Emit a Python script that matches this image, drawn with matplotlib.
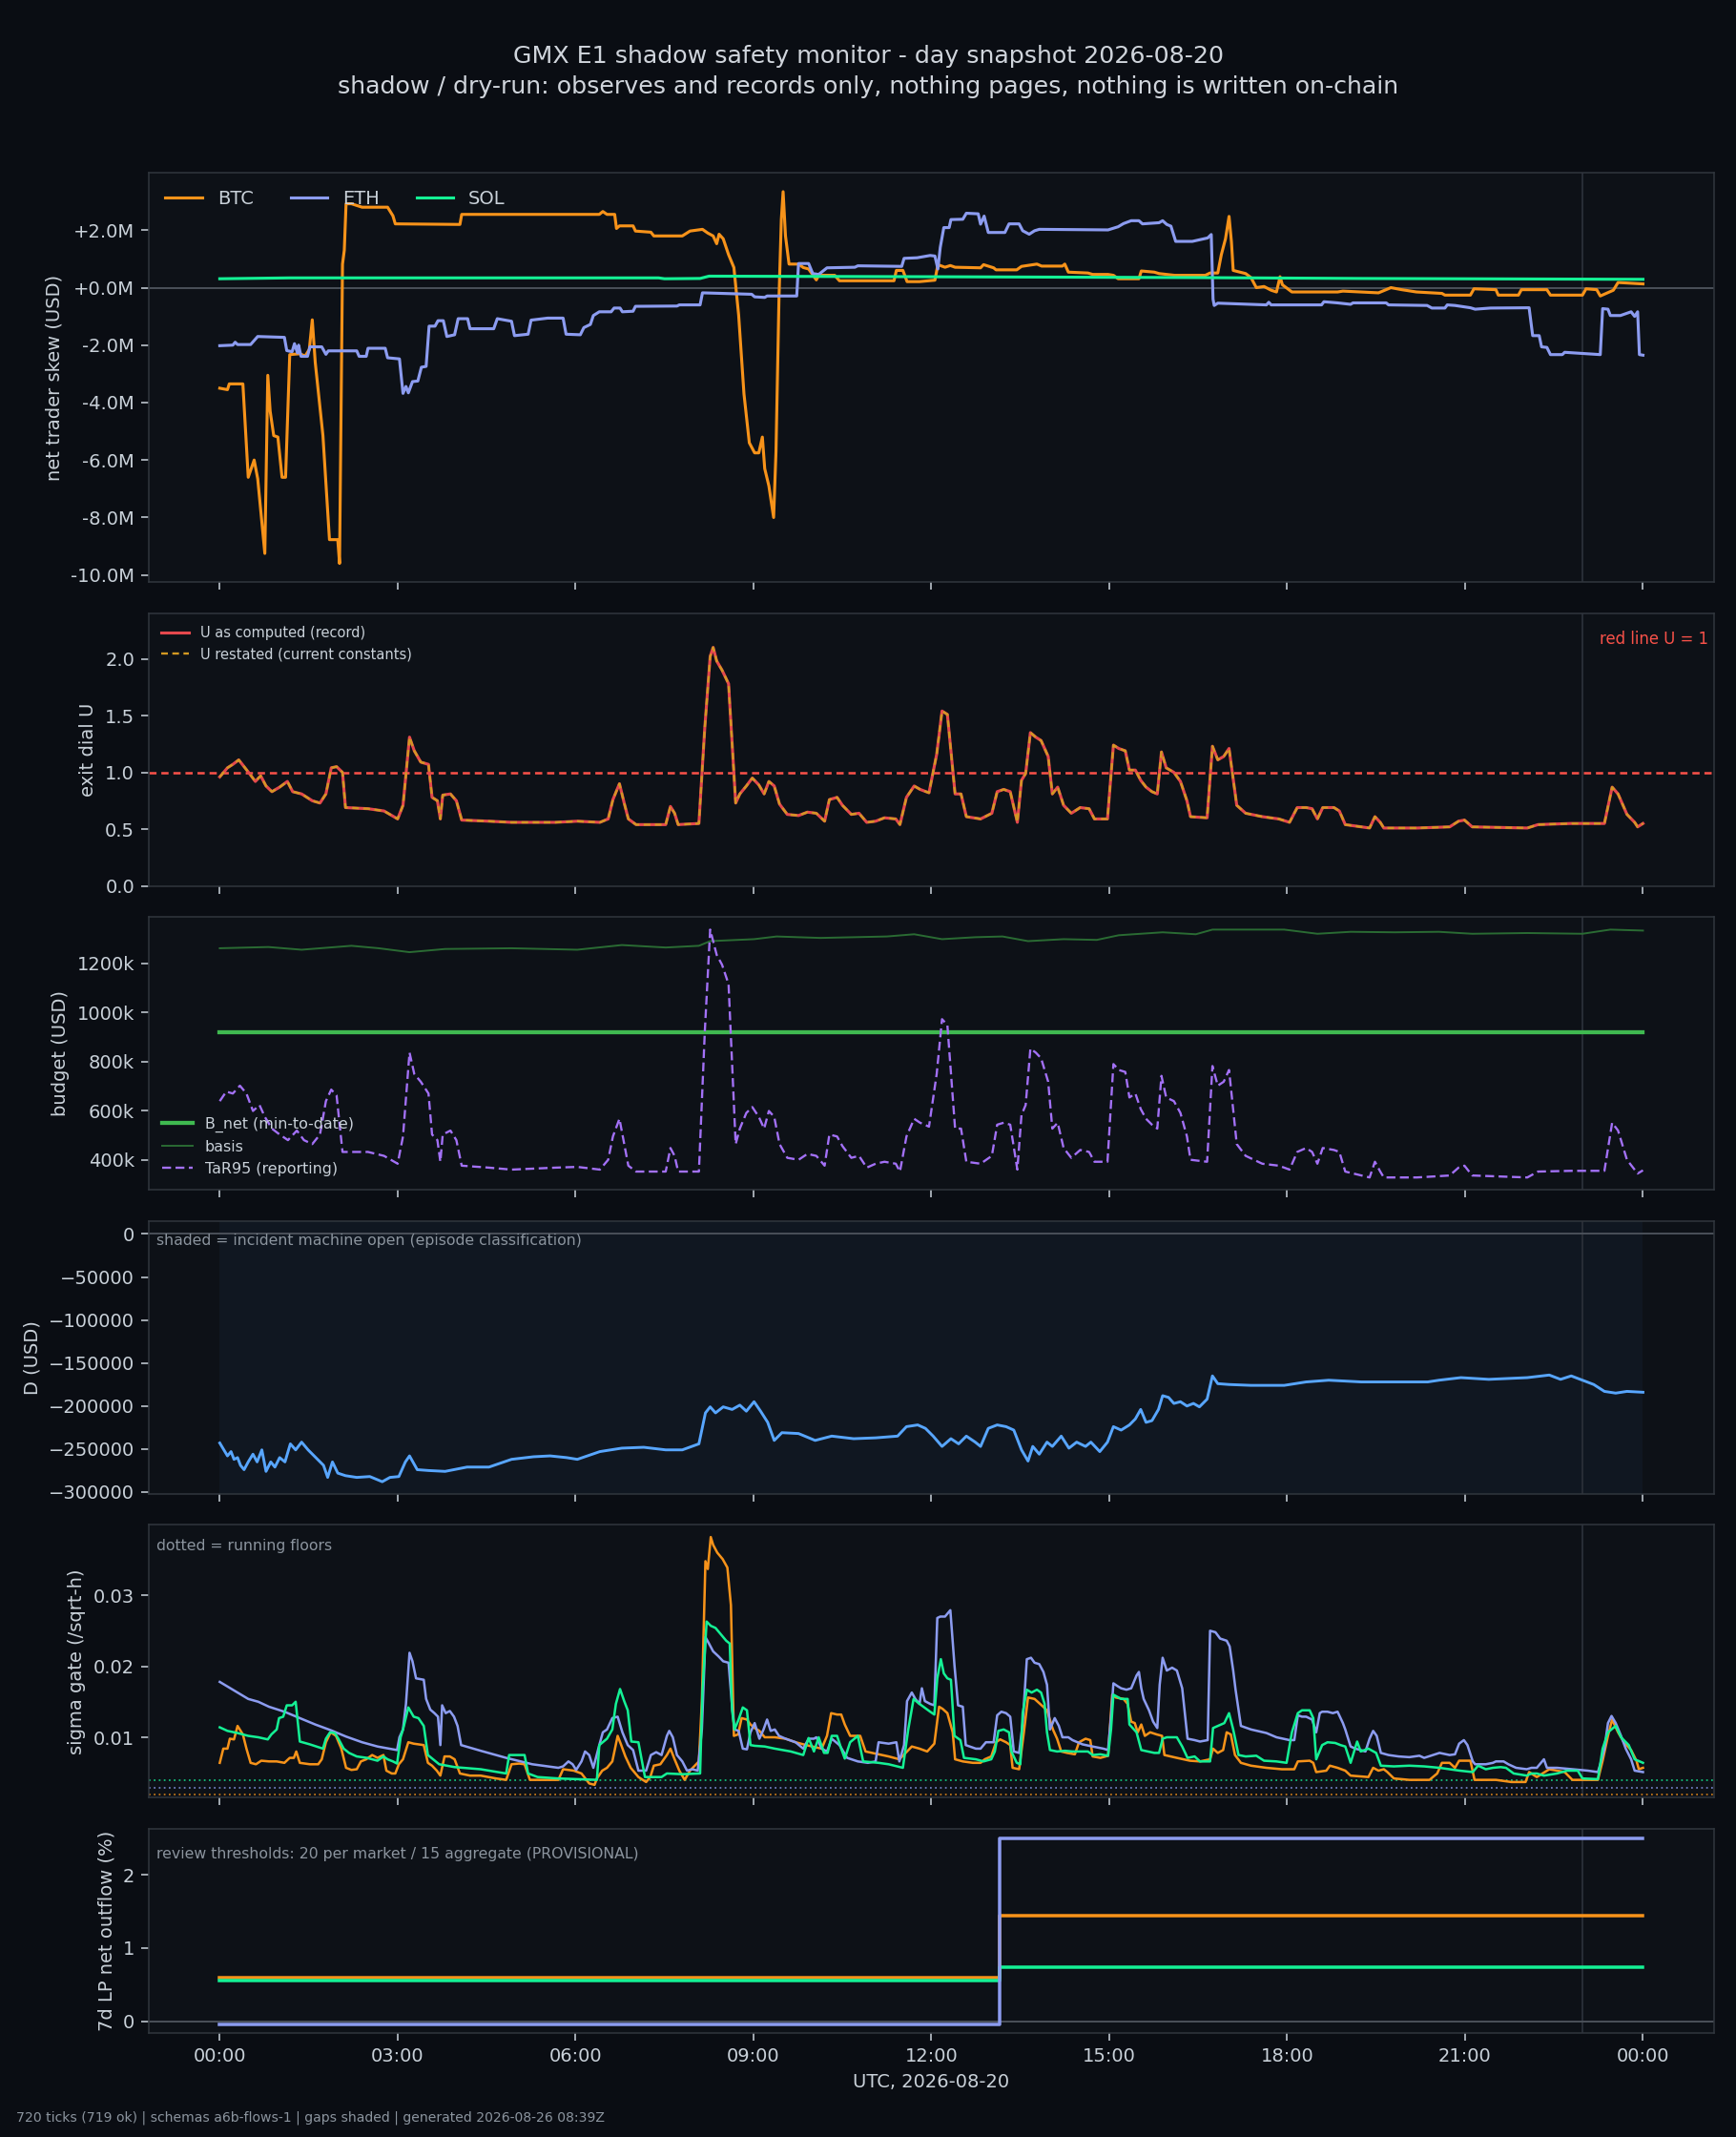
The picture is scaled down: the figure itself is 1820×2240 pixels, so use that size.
import matplotlib
matplotlib.use("Agg")
import matplotlib.pyplot as plt
from matplotlib.ticker import FuncFormatter, MultipleLocator

# colours (dark theme)
BG = "#0a0d13"
PANEL = "#0d1117"
EDGE = "#30363d"
TXT = "#c9d1d9"
MUTED = "#8b949e"
C_BTC = "#f7931a"
C_ETH = "#8c9cf0"
C_SOL = "#14f195"

# ---- data, hours since 00:00 UTC ----
# net trader skew, USD millions
btc_skew = [(0.00, -3.50), (0.13, -3.55), (0.16, -3.35), (0.39, -3.35), (0.48, -6.60), (0.58, -6.00),
            (0.64, -6.65), (0.76, -9.25), (0.81, -3.05), (0.85, -4.30), (0.91, -5.15), (0.98, -5.20),
            (1.05, -6.60), (1.11, -6.60), (1.18, -2.33), (1.35, -2.30), (1.44, -2.38), (1.51, -2.15),
            (1.56, -1.12), (1.61, -2.60), (1.74, -5.15), (1.85, -8.77), (1.99, -8.77), (2.02, -9.60),
            (2.07, 0.82), (2.10, 1.30), (2.13, 2.92), (2.22, 2.92), (2.31, 2.86), (2.40, 2.80),
            (2.83, 2.80), (2.92, 2.50), (2.96, 2.22), (4.05, 2.20), (4.08, 2.55), (6.40, 2.55),
            (6.46, 2.65), (6.53, 2.55), (6.66, 2.55), (6.69, 2.06), (6.74, 2.15), (6.97, 2.15),
            (7.01, 1.97), (7.27, 1.93), (7.32, 1.80), (7.80, 1.80), (7.93, 1.97), (8.14, 2.03),
            (8.23, 1.90), (8.32, 1.80), (8.38, 1.53), (8.42, 1.86), (8.49, 1.70), (8.58, 1.15),
            (8.67, 0.70), (8.75, -0.95), (8.84, -3.70), (8.93, -5.40), (9.02, -5.75), (9.09, -5.75),
            (9.15, -5.20), (9.19, -6.30), (9.26, -6.90), (9.34, -8.00), (9.38, -5.70), (9.43, -0.40),
            (9.47, 2.37), (9.50, 3.34), (9.54, 1.80), (9.60, 0.82), (9.76, 0.82), (9.84, 0.70),
            (9.93, 0.65), (10.06, 0.27), (10.10, 0.43), (10.37, 0.43), (10.45, 0.24), (11.37, 0.24),
            (11.41, 0.60), (11.52, 0.60), (11.59, 0.21), (11.80, 0.21), (12.06, 0.26), (12.11, 0.80),
            (12.23, 0.71), (12.32, 0.77), (12.40, 0.71), (12.83, 0.69), (12.88, 0.80), (13.05, 0.69),
            (13.09, 0.62), (13.44, 0.62), (13.52, 0.74), (13.78, 0.82), (13.86, 0.75), (14.21, 0.75),
            (14.25, 0.82), (14.31, 0.54), (14.64, 0.51), (14.72, 0.46), (14.98, 0.46), (15.07, 0.43),
            (15.15, 0.31), (15.50, 0.31), (15.54, 0.58), (15.76, 0.54), (15.84, 0.49), (16.10, 0.43),
            (16.62, 0.43), (16.70, 0.51), (16.83, 0.51), (16.89, 1.15), (16.96, 1.70), (17.02, 2.48),
            (17.06, 1.60), (17.09, 0.60), (17.30, 0.49), (17.39, 0.35), (17.48, 0.00), (17.61, 0.04),
            (17.73, -0.09), (17.82, -0.15), (17.88, 0.38), (17.92, 0.10), (18.08, -0.15), (18.85, -0.15),
            (18.94, -0.12), (19.54, -0.18), (19.75, 0.00), (19.93, -0.07), (20.18, -0.15), (20.61, -0.20),
            (20.66, -0.26), (21.09, -0.26), (21.15, -0.04), (21.52, -0.07), (21.56, -0.26), (21.90, -0.26),
            (21.95, -0.07), (22.38, -0.07), (22.44, -0.26), (22.98, -0.26), (23.04, -0.04), (23.22, -0.07),
            (23.28, -0.29), (23.50, -0.09), (23.58, 0.18), (24.00, 0.13)]
eth_skew = [(0.00, -2.02), (0.22, -2.00), (0.26, -1.90), (0.30, -1.98), (0.52, -1.98), (0.64, -1.70),
            (1.09, -1.73), (1.13, -2.19), (1.22, -2.23), (1.26, -1.95), (1.31, -2.27), (1.33, -2.00),
            (1.37, -2.39), (1.48, -2.39), (1.52, -2.06), (1.72, -2.06), (1.79, -2.32), (1.83, -2.20),
            (2.31, -2.20), (2.35, -2.39), (2.47, -2.39), (2.50, -2.11), (2.79, -2.11), (2.83, -2.44),
            (3.03, -2.48), (3.09, -3.68), (3.14, -3.44), (3.18, -3.66), (3.25, -3.27), (3.34, -3.25),
            (3.40, -2.77), (3.48, -2.74), (3.53, -1.34), (3.63, -1.34), (3.68, -1.15), (3.77, -1.15),
            (3.83, -1.70), (3.96, -1.64), (4.02, -1.08), (4.18, -1.08), (4.22, -1.43), (4.62, -1.43),
            (4.68, -1.08), (4.92, -1.17), (4.97, -1.67), (5.20, -1.62), (5.25, -1.13), (5.53, -1.06),
            (5.79, -1.06), (5.84, -1.62), (6.08, -1.64), (6.14, -1.39), (6.25, -1.28), (6.30, -0.97),
            (6.40, -0.84), (6.60, -0.84), (6.65, -0.71), (6.75, -0.71), (6.79, -0.84), (6.97, -0.82),
            (7.01, -0.65), (7.71, -0.64), (7.75, -0.60), (8.10, -0.60), (8.14, -0.18), (8.62, -0.21),
            (8.97, -0.23), (9.02, -0.32), (9.19, -0.34), (9.23, -0.29), (9.73, -0.29), (9.76, 0.84),
            (9.93, 0.84), (10.00, 0.49), (10.10, 0.46), (10.24, 0.69), (10.71, 0.71), (10.76, 0.76),
            (11.50, 0.74), (11.54, 1.02), (11.76, 1.04), (11.98, 1.12), (12.06, 1.10), (12.11, 0.65),
            (12.15, 1.40), (12.21, 2.09), (12.30, 2.09), (12.33, 2.37), (12.53, 2.38), (12.59, 2.59),
            (12.79, 2.57), (12.83, 2.21), (12.89, 2.49), (12.96, 1.92), (13.24, 1.92), (13.31, 2.22),
            (13.48, 2.22), (13.54, 1.98), (13.65, 1.86), (13.74, 1.98), (13.82, 2.03), (14.98, 2.01),
            (15.15, 2.12), (15.24, 2.23), (15.37, 2.33), (15.50, 2.33), (15.56, 2.22), (15.84, 2.26),
            (15.90, 2.33), (15.97, 2.20), (16.04, 2.14), (16.12, 1.61), (16.40, 1.61), (16.66, 1.73),
            (16.72, 1.85), (16.75, -0.40), (16.77, -0.62), (16.83, -0.54), (17.65, -0.60), (17.69, -0.51),
            (17.73, -0.60), (18.58, -0.60), (18.62, -0.49), (18.85, -0.53), (19.07, -0.58), (19.11, -0.53),
            (19.67, -0.53), (19.71, -0.60), (20.36, -0.62), (20.44, -0.71), (20.66, -0.71), (20.70, -0.60),
            (20.83, -0.62), (21.09, -0.70), (21.17, -0.75), (21.43, -0.71), (22.08, -0.70), (22.14, -1.67),
            (22.25, -1.67), (22.29, -2.06), (22.38, -2.08), (22.44, -2.33), (22.64, -2.33), (22.68, -2.25),
            (23.28, -2.33), (23.32, -0.73), (23.41, -0.75), (23.45, -0.97), (23.62, -0.97), (23.80, -0.84),
            (23.86, -1.00), (23.91, -0.84), (23.94, -2.33), (24.00, -2.35)]
sol_skew = [(0.00, 0.31), (1.18, 0.34), (7.40, 0.34), (7.50, 0.31), (8.10, 0.32), (8.25, 0.40),
            (12.06, 0.38), (16.50, 0.35), (19.20, 0.32), (24.00, 0.29)]

# exit dial U (record; restated values coincide)
u_dial = [(0.00, 0.96), (0.13, 1.04), (0.22, 1.07), (0.32, 1.11), (0.41, 1.05), (0.50, 0.99), (0.60, 0.92),
          (0.69, 0.97), (0.78, 0.88), (0.88, 0.83), (1.01, 0.87), (1.14, 0.92), (1.23, 0.83), (1.38, 0.81),
          (1.56, 0.75), (1.69, 0.73), (1.79, 0.81), (1.88, 1.04), (1.97, 1.05), (2.07, 1.00), (2.12, 0.69),
          (2.50, 0.68), (2.77, 0.66), (3.00, 0.59), (3.09, 0.71), (3.20, 1.31), (3.28, 1.19), (3.39, 1.09),
          (3.52, 1.07), (3.58, 0.78), (3.67, 0.75), (3.72, 0.59), (3.76, 0.80), (3.89, 0.81), (3.99, 0.75),
          (4.08, 0.58), (4.54, 0.57), (4.92, 0.56), (5.66, 0.56), (6.03, 0.57), (6.41, 0.56), (6.55, 0.59),
          (6.63, 0.76), (6.74, 0.90), (6.82, 0.73), (6.89, 0.59), (7.02, 0.54), (7.52, 0.54), (7.60, 0.70),
          (7.67, 0.64), (7.73, 0.54), (8.08, 0.55), (8.18, 1.40), (8.27, 2.02), (8.32, 2.10), (8.38, 1.98),
          (8.47, 1.90), (8.58, 1.78), (8.70, 0.73), (8.77, 0.81), (8.88, 0.88), (8.98, 0.95), (9.09, 0.89),
          (9.18, 0.81), (9.26, 0.92), (9.35, 0.88), (9.44, 0.72), (9.57, 0.63), (9.76, 0.62), (9.91, 0.65),
          (10.06, 0.64), (10.20, 0.57), (10.28, 0.76), (10.41, 0.78), (10.50, 0.71), (10.65, 0.63),
          (10.78, 0.64), (10.91, 0.56), (11.06, 0.57), (11.21, 0.60), (11.40, 0.59), (11.47, 0.54),
          (11.58, 0.78), (11.71, 0.88), (11.81, 0.85), (11.96, 0.82), (12.09, 1.16), (12.18, 1.54),
          (12.27, 1.51), (12.40, 0.81), (12.50, 0.81), (12.59, 0.61), (12.83, 0.59), (13.02, 0.64),
          (13.11, 0.83), (13.22, 0.85), (13.33, 0.83), (13.45, 0.56), (13.52, 0.93), (13.59, 0.99),
          (13.67, 1.35), (13.76, 1.31), (13.85, 1.28), (13.97, 1.14), (14.04, 0.81), (14.13, 0.87),
          (14.23, 0.71), (14.36, 0.64), (14.51, 0.69), (14.66, 0.68), (14.75, 0.59), (14.97, 0.59),
          (15.07, 1.24), (15.16, 1.21), (15.27, 1.19), (15.34, 1.02), (15.44, 1.02), (15.53, 0.93),
          (15.62, 0.87), (15.72, 0.83), (15.81, 0.81), (15.88, 1.18), (15.96, 1.04), (16.09, 1.00),
          (16.20, 0.92), (16.31, 0.75), (16.37, 0.61), (16.65, 0.60), (16.74, 1.23), (16.83, 1.11),
          (16.93, 1.14), (17.02, 1.21), (17.15, 0.71), (17.30, 0.64), (17.58, 0.61), (17.86, 0.59),
          (18.04, 0.56), (18.17, 0.69), (18.32, 0.69), (18.42, 0.68), (18.51, 0.59), (18.60, 0.69),
          (18.79, 0.69), (18.88, 0.66), (18.98, 0.54), (19.25, 0.52), (19.39, 0.51), (19.48, 0.61),
          (19.57, 0.56), (19.63, 0.51), (20.19, 0.51), (20.74, 0.52), (20.89, 0.57), (20.99, 0.58),
          (21.12, 0.52), (22.05, 0.51), (22.23, 0.54), (22.79, 0.55), (23.35, 0.55), (23.48, 0.87),
          (23.58, 0.81), (23.73, 0.63), (23.86, 0.56), (23.91, 0.52), (24.00, 0.55)]
u_red_line = 1.0

# budget, USD thousands
b_net_k = 920
basis_k = [(0.00, 1262), (0.82, 1267), (1.38, 1256), (2.22, 1272), (2.68, 1262), (3.20, 1246), (3.80, 1259),
           (4.92, 1262), (6.03, 1256), (6.78, 1275), (7.52, 1265), (8.08, 1272), (8.27, 1291), (9.01, 1299),
           (9.39, 1310), (10.13, 1304), (11.25, 1310), (11.71, 1319), (12.18, 1299), (12.74, 1307),
           (13.20, 1310), (13.63, 1291), (14.23, 1299), (14.79, 1296), (15.16, 1315), (15.90, 1327),
           (16.46, 1319), (16.74, 1338), (17.95, 1338), (18.51, 1321), (19.07, 1329), (19.81, 1327),
           (20.56, 1329), (21.12, 1321), (22.05, 1324), (22.98, 1321), (23.45, 1338), (24.00, 1334)]
tar95_k = [(0.00, 639), (0.11, 678), (0.22, 670), (0.34, 702), (0.45, 670), (0.56, 599), (0.67, 623),
           (0.76, 575), (0.88, 527), (1.01, 503), (1.15, 480), (1.30, 519), (1.42, 480), (1.56, 464),
           (1.69, 503), (1.79, 639), (1.88, 686), (1.97, 662), (2.07, 432), (2.50, 432), (2.77, 416),
           (3.00, 384), (3.09, 495), (3.20, 837), (3.28, 750), (3.39, 718), (3.52, 670), (3.58, 503),
           (3.67, 480), (3.72, 392), (3.76, 503), (3.89, 519), (3.99, 480), (4.08, 376), (4.54, 368),
           (4.92, 360), (5.66, 368), (6.03, 371), (6.41, 360), (6.55, 400), (6.63, 495), (6.74, 567),
           (6.82, 464), (6.89, 376), (7.02, 352), (7.52, 352), (7.60, 448), (7.67, 416), (7.73, 352),
           (8.08, 352), (8.18, 925), (8.27, 1338), (8.32, 1291), (8.38, 1235), (8.47, 1195), (8.58, 1116),
           (8.70, 464), (8.77, 527), (8.88, 591), (8.98, 615), (9.09, 575), (9.18, 527), (9.26, 599),
           (9.35, 575), (9.44, 464), (9.57, 408), (9.76, 400), (9.91, 424), (10.06, 416), (10.20, 376),
           (10.28, 503), (10.41, 495), (10.50, 456), (10.65, 408), (10.78, 416), (10.91, 368), (11.06, 384),
           (11.21, 392), (11.40, 384), (11.47, 352), (11.58, 495), (11.71, 567), (11.81, 551), (11.96, 535),
           (12.09, 750), (12.18, 973), (12.27, 949), (12.40, 527), (12.50, 527), (12.59, 392), (12.83, 384),
           (13.02, 416), (13.11, 543), (13.22, 551), (13.33, 543), (13.45, 360), (13.52, 583), (13.59, 623),
           (13.67, 853), (13.76, 837), (13.85, 814), (13.97, 718), (14.04, 527), (14.13, 551), (14.23, 448),
           (14.36, 408), (14.51, 440), (14.66, 432), (14.75, 392), (14.97, 392), (15.07, 790), (15.16, 766),
           (15.27, 758), (15.34, 654), (15.44, 670), (15.53, 607), (15.62, 567), (15.72, 543), (15.81, 527),
           (15.88, 742), (15.96, 654), (16.09, 639), (16.20, 591), (16.31, 495), (16.37, 400), (16.65, 392),
           (16.74, 782), (16.83, 702), (16.93, 718), (17.02, 766), (17.15, 464), (17.30, 416), (17.58, 384),
           (17.86, 376), (18.04, 360), (18.17, 432), (18.32, 448), (18.42, 432), (18.51, 384), (18.60, 448),
           (18.79, 440), (18.88, 432), (18.98, 352), (19.25, 336), (19.39, 328), (19.48, 392), (19.57, 352),
           (19.63, 328), (20.19, 328), (20.74, 336), (20.89, 368), (20.99, 376), (21.12, 336), (22.05, 328),
           (22.23, 352), (22.79, 355), (23.35, 355), (23.48, 551), (23.58, 519), (23.73, 400), (23.86, 360),
           (23.91, 344), (24.00, 357)]

# D, USD thousands
d_k = [(0.00, -243), (0.07, -251), (0.13, -258), (0.19, -253), (0.24, -262), (0.30, -260), (0.35, -269),
       (0.41, -274), (0.48, -265), (0.56, -256), (0.63, -265), (0.71, -251), (0.78, -276), (0.86, -265),
       (0.93, -271), (1.01, -260), (1.10, -265), (1.19, -244), (1.28, -251), (1.38, -242), (1.49, -251),
       (1.62, -260), (1.75, -269), (1.82, -283), (1.90, -265), (1.99, -278), (2.12, -281), (2.31, -283),
       (2.53, -282), (2.74, -288), (2.87, -283), (3.02, -282), (3.13, -265), (3.20, -258), (3.33, -274),
       (3.52, -275), (3.80, -276), (4.17, -271), (4.54, -271), (4.92, -262), (5.29, -259), (5.57, -258),
       (5.85, -260), (6.03, -262), (6.41, -253), (6.78, -249), (7.15, -248), (7.52, -251), (7.80, -251),
       (8.08, -244), (8.19, -208), (8.27, -201), (8.36, -208), (8.49, -201), (8.64, -204), (8.77, -199),
       (8.88, -206), (9.01, -195), (9.12, -206), (9.24, -219), (9.35, -240), (9.48, -231), (9.76, -232),
       (10.04, -240), (10.32, -235), (10.69, -238), (11.06, -237), (11.43, -235), (11.58, -224),
       (11.77, -222), (11.90, -226), (12.03, -235), (12.18, -247), (12.33, -238), (12.46, -244),
       (12.59, -235), (12.74, -242), (12.83, -247), (12.96, -226), (13.11, -222), (13.26, -224),
       (13.39, -228), (13.52, -251), (13.63, -264), (13.71, -247), (13.82, -256), (13.95, -242),
       (14.04, -247), (14.19, -235), (14.32, -249), (14.45, -242), (14.60, -247), (14.69, -242),
       (14.84, -253), (14.97, -242), (15.07, -224), (15.20, -228), (15.34, -222), (15.44, -215),
       (15.53, -204), (15.62, -219), (15.72, -217), (15.83, -204), (15.90, -188), (16.00, -190),
       (16.09, -197), (16.20, -195), (16.31, -200), (16.42, -197), (16.52, -201), (16.65, -192),
       (16.74, -165), (16.83, -174), (17.02, -175), (17.39, -176), (17.95, -176), (18.32, -172),
       (18.70, -170), (19.25, -172), (19.81, -172), (20.37, -172), (20.56, -170), (20.93, -167),
       (21.40, -169), (22.05, -167), (22.42, -164), (22.61, -169), (22.79, -165), (22.98, -170),
       (23.17, -175), (23.35, -183), (23.54, -185), (23.73, -183), (24.00, -184)]
incident_open = (0.0, 24.0)

# sigma gate, in units of 1e-3 per sqrt-hour
sig_btc = [(0.00, 6.4), (0.06, 8.4), (0.13, 8.4), (0.17, 9.8), (0.24, 9.7), (0.30, 11.6), (0.39, 10.4),
           (0.45, 8.4), (0.52, 6.4), (0.61, 6.2), (0.70, 6.7), (0.83, 6.6), (0.96, 6.6), (1.09, 6.4),
           (1.18, 7.1), (1.25, 7.1), (1.29, 8.0), (1.35, 6.4), (1.52, 6.2), (1.66, 6.2), (1.72, 6.9),
           (1.79, 9.3), (1.87, 10.7), (1.96, 10.2), (2.05, 8.4), (2.13, 5.7), (2.22, 5.4), (2.31, 5.5),
           (2.38, 6.6), (2.47, 6.9), (2.57, 7.5), (2.66, 7.1), (2.76, 7.5), (2.81, 5.3), (2.90, 4.9),
           (2.96, 4.9), (3.02, 6.2), (3.09, 6.9), (3.18, 9.3), (3.27, 9.1), (3.35, 9.0), (3.44, 8.9),
           (3.51, 6.4), (3.58, 6.0), (3.66, 5.3), (3.72, 4.6), (3.79, 7.3), (3.88, 7.3), (3.96, 6.9),
           (4.05, 4.9), (4.22, 4.6), (4.40, 4.6), (4.66, 4.2), (4.83, 4.0), (4.92, 6.2), (5.05, 6.3),
           (5.14, 6.2), (5.23, 4.0), (5.71, 4.0), (5.79, 5.5), (5.97, 5.3), (6.10, 4.9), (6.23, 3.5),
           (6.32, 3.3), (6.36, 4.2), (6.45, 5.3), (6.53, 5.7), (6.62, 6.6), (6.71, 10.2), (6.77, 8.9),
           (6.84, 7.3), (6.93, 5.7), (7.06, 4.4), (7.19, 3.7), (7.26, 4.4), (7.32, 6.0), (7.43, 6.2),
           (7.54, 7.5), (7.60, 8.4), (7.67, 6.9), (7.75, 5.3), (7.84, 4.0), (7.93, 5.3), (8.01, 6.0),
           (8.08, 6.6), (8.13, 15.1), (8.19, 34.8), (8.23, 33.7), (8.28, 38.2), (8.32, 37.1), (8.39, 36.0),
           (8.48, 35.1), (8.56, 33.9), (8.62, 28.6), (8.67, 10.2), (8.74, 10.4), (8.80, 12.7), (8.89, 12.5),
           (8.95, 11.8), (9.02, 11.3), (9.10, 10.9), (9.19, 10.0), (9.36, 10.0), (9.54, 9.8), (9.71, 9.3),
           (9.89, 8.9), (10.15, 8.4), (10.24, 10.2), (10.31, 13.4), (10.41, 13.2), (10.48, 13.2),
           (10.54, 11.8), (10.63, 10.2), (10.71, 10.2), (10.80, 10.2), (10.89, 8.0), (11.11, 7.6),
           (11.28, 7.3), (11.46, 6.9), (11.59, 8.0), (11.67, 8.7), (11.80, 8.4), (11.93, 8.0), (12.05, 9.1),
           (12.13, 14.3), (12.19, 14.0), (12.27, 13.4), (12.36, 10.7), (12.40, 6.9), (12.53, 6.6),
           (12.70, 6.4), (12.83, 6.4), (12.90, 6.9), (13.01, 7.3), (13.09, 9.3), (13.16, 9.7), (13.26, 9.3),
           (13.33, 8.9), (13.37, 5.7), (13.48, 5.5), (13.56, 10.7), (13.63, 15.6), (13.74, 15.4),
           (13.86, 14.5), (13.95, 13.8), (14.05, 11.1), (14.12, 9.8), (14.19, 8.0), (14.29, 7.8),
           (14.42, 7.6), (14.49, 9.3), (14.60, 9.8), (14.68, 9.6), (14.72, 7.3), (14.85, 7.1), (14.98, 7.4),
           (15.05, 16.0), (15.11, 15.6), (15.24, 15.4), (15.31, 14.7), (15.37, 12.2), (15.43, 12.0),
           (15.48, 10.7), (15.54, 11.8), (15.60, 10.2), (15.69, 10.7), (15.80, 10.4), (15.89, 10.2),
           (15.93, 7.5), (16.14, 7.1), (16.36, 6.7), (16.53, 6.6), (16.70, 6.9), (16.75, 8.4), (16.83, 7.8),
           (16.92, 8.2), (16.98, 10.7), (17.05, 10.4), (17.12, 7.5), (17.22, 6.4), (17.39, 6.0),
           (17.65, 5.7), (17.91, 5.5), (18.12, 5.5), (18.18, 6.6), (18.38, 6.7), (18.44, 6.4), (18.49, 5.1),
           (18.66, 5.3), (18.72, 6.0), (18.85, 5.7), (18.98, 5.3), (19.07, 4.6), (19.37, 4.4), (19.45, 5.7),
           (19.54, 5.3), (19.63, 5.5), (19.69, 5.1), (19.80, 4.2), (20.06, 4.0), (20.40, 4.0), (20.53, 4.9),
           (20.61, 6.4), (20.74, 6.4), (20.83, 5.7), (20.90, 6.7), (21.09, 6.7), (21.16, 4.0), (21.52, 4.0),
           (21.78, 3.7), (22.02, 3.7), (22.08, 5.1), (22.21, 4.4), (22.42, 5.5), (22.55, 5.3), (22.68, 5.1),
           (22.81, 4.0), (23.24, 4.0), (23.32, 6.7), (23.41, 10.2), (23.48, 12.5), (23.58, 10.7),
           (23.68, 9.3), (23.80, 8.2), (23.89, 6.7), (23.93, 5.5), (24.00, 5.7)]
sig_eth = [(0.00, 17.8), (0.22, 16.7), (0.48, 15.4), (0.65, 15.0), (0.83, 14.3), (1.09, 13.6), (1.35, 12.7),
           (1.61, 11.8), (1.87, 11.0), (2.13, 10.1), (2.40, 9.3), (2.66, 8.7), (2.99, 8.2), (3.03, 10.0),
           (3.09, 11.1), (3.14, 14.7), (3.20, 21.9), (3.25, 20.7), (3.31, 18.3), (3.44, 18.1), (3.48, 15.4),
           (3.55, 13.9), (3.62, 13.4), (3.68, 12.9), (3.72, 8.9), (3.75, 14.5), (3.81, 13.4), (3.88, 13.7),
           (3.95, 12.9), (4.01, 11.6), (4.07, 8.9), (4.40, 8.1), (4.83, 7.1), (5.27, 6.2), (5.71, 5.7),
           (5.79, 5.9), (5.88, 6.6), (5.95, 6.2), (6.01, 5.4), (6.10, 6.6), (6.16, 8.0), (6.23, 7.5),
           (6.30, 5.7), (6.40, 8.9), (6.46, 10.7), (6.53, 11.1), (6.62, 12.7), (6.71, 12.9), (6.79, 10.7),
           (6.88, 8.9), (6.97, 8.2), (7.06, 5.3), (7.19, 5.3), (7.27, 7.5), (7.36, 7.9), (7.45, 7.5),
           (7.54, 10.2), (7.58, 10.9), (7.64, 10.0), (7.71, 7.5), (7.80, 6.6), (7.88, 5.3), (7.97, 5.5),
           (8.06, 5.3), (8.13, 11.1), (8.19, 24.1), (8.25, 23.2), (8.32, 22.1), (8.41, 21.4), (8.49, 20.7),
           (8.58, 20.5), (8.64, 14.3), (8.68, 11.1), (8.75, 10.9), (8.82, 8.4), (8.89, 8.3), (8.95, 10.7),
           (9.02, 12.0), (9.10, 9.8), (9.17, 11.1), (9.23, 12.5), (9.29, 10.9), (9.36, 11.1), (9.43, 10.2),
           (9.54, 9.8), (9.71, 9.3), (9.84, 8.4), (9.93, 9.8), (10.02, 9.8), (10.06, 10.0), (10.15, 8.4),
           (10.24, 8.0), (10.32, 9.8), (10.45, 8.9), (10.58, 7.1), (10.76, 6.6), (10.93, 6.4), (11.06, 6.6),
           (11.11, 9.3), (11.28, 9.1), (11.41, 9.3), (11.46, 6.6), (11.54, 8.9), (11.59, 15.1), (11.67, 16.3),
           (11.73, 15.4), (11.80, 14.7), (11.84, 16.9), (11.89, 15.1), (11.98, 14.7), (12.05, 14.5),
           (12.10, 26.8), (12.15, 27.0), (12.23, 27.0), (12.32, 27.9), (12.39, 20.1), (12.45, 14.5),
           (12.53, 14.3), (12.58, 8.9), (12.75, 8.4), (12.83, 8.4), (12.92, 9.3), (13.05, 9.3), (13.11, 13.1),
           (13.18, 13.6), (13.26, 13.4), (13.33, 12.9), (13.39, 8.0), (13.48, 7.8), (13.54, 12.0),
           (13.61, 21.0), (13.68, 21.2), (13.74, 20.5), (13.82, 20.3), (13.89, 19.2), (13.95, 17.4),
           (14.00, 11.1), (14.08, 12.7), (14.15, 11.6), (14.21, 10.0), (14.31, 10.0), (14.38, 9.6),
           (14.55, 9.0), (14.72, 8.7), (14.90, 8.4), (14.98, 8.2), (15.03, 12.9), (15.07, 17.6), (15.14, 17.2),
           (15.20, 16.9), (15.29, 16.7), (15.37, 16.9), (15.46, 18.7), (15.50, 19.2), (15.54, 16.9),
           (15.58, 15.4), (15.67, 13.8), (15.74, 12.2), (15.81, 11.3), (15.85, 17.4), (15.90, 21.2),
           (15.97, 19.4), (16.06, 19.8), (16.14, 19.4), (16.23, 16.9), (16.32, 9.8), (16.44, 9.6),
           (16.53, 9.4), (16.66, 9.6), (16.70, 25.0), (16.79, 24.8), (16.87, 23.9), (16.98, 23.6),
           (17.03, 22.8), (17.09, 19.4), (17.13, 16.7), (17.22, 11.6), (17.39, 11.1), (17.65, 10.6),
           (17.82, 10.0), (18.04, 9.6), (18.12, 9.6), (18.18, 13.1), (18.25, 12.9), (18.32, 12.9),
           (18.42, 12.5), (18.49, 10.7), (18.55, 13.4), (18.59, 13.6), (18.68, 13.6), (18.77, 13.4),
           (18.85, 13.6), (18.94, 12.0), (18.98, 11.1), (19.07, 8.7), (19.15, 8.4), (19.24, 8.2), (19.32, 8.0),
           (19.39, 9.8), (19.45, 10.9), (19.51, 10.2), (19.58, 7.8), (19.71, 7.5), (19.88, 7.3), (20.06, 7.2),
           (20.23, 7.4), (20.31, 7.1), (20.57, 7.8), (20.74, 7.5), (20.83, 7.6), (20.90, 9.1), (20.98, 9.6),
           (21.04, 8.9), (21.13, 6.6), (21.17, 6.2), (21.35, 6.2), (21.47, 6.4), (21.52, 6.6), (21.65, 6.6),
           (21.73, 6.2), (21.86, 5.7), (22.04, 5.5), (22.12, 5.7), (22.21, 5.7), (22.33, 6.9), (22.38, 5.7),
           (22.55, 5.7), (22.81, 5.5), (23.07, 5.3), (23.24, 5.1), (23.28, 6.2), (23.35, 8.4), (23.41, 12.0),
           (23.47, 13.0), (23.54, 12.0), (23.63, 10.2), (23.71, 8.4), (23.80, 6.9), (23.86, 5.3), (24.00, 5.1)]
sig_sol = [(0.00, 11.4), (0.13, 10.9), (0.30, 10.6), (0.48, 10.2), (0.65, 10.0), (0.81, 9.7), (0.87, 10.4),
           (0.96, 11.1), (1.00, 12.7), (1.07, 12.9), (1.13, 14.5), (1.22, 14.5), (1.28, 15.0), (1.35, 9.4),
           (1.52, 9.0), (1.74, 8.4), (1.79, 9.8), (1.86, 10.7), (1.94, 10.6), (2.00, 9.8), (2.09, 8.4),
           (2.18, 7.8), (2.31, 7.3), (2.48, 7.1), (2.66, 6.7), (2.76, 7.3), (2.83, 6.9), (2.92, 6.6),
           (2.99, 6.3), (3.05, 10.0), (3.09, 11.1), (3.18, 14.2), (3.27, 12.9), (3.35, 12.7), (3.44, 11.6),
           (3.51, 7.5), (3.70, 6.2), (3.96, 5.8), (4.40, 5.5), (4.83, 4.9), (4.88, 7.5), (5.14, 7.5),
           (5.20, 4.9), (5.36, 4.4), (5.71, 4.2), (6.36, 4.0), (6.40, 8.9), (6.53, 9.8), (6.62, 11.1),
           (6.68, 14.7), (6.75, 16.8), (6.82, 15.1), (6.88, 13.8), (6.94, 9.4), (7.06, 9.3), (7.17, 4.4),
           (7.45, 4.4), (7.54, 4.9), (7.80, 4.8), (8.10, 4.9), (8.14, 16.5), (8.21, 26.3), (8.28, 25.7),
           (8.36, 25.4), (8.45, 24.5), (8.54, 23.6), (8.60, 23.2), (8.64, 13.8), (8.68, 11.1), (8.75, 12.5),
           (8.82, 14.2), (8.89, 13.8), (8.95, 8.9), (9.02, 8.8), (9.19, 8.7), (9.36, 8.4), (9.63, 8.0),
           (9.84, 7.5), (9.93, 9.9), (10.02, 8.0), (10.10, 10.0), (10.19, 7.8), (10.25, 7.8), (10.32, 10.2),
           (10.41, 10.2), (10.48, 8.4), (10.54, 7.0), (10.63, 9.3), (10.76, 10.2), (10.85, 6.6), (11.11, 6.4),
           (11.28, 6.2), (11.52, 5.7), (11.61, 11.1), (11.70, 15.4), (11.80, 14.7), (11.98, 13.6),
           (12.05, 13.2), (12.10, 18.3), (12.16, 21.0), (12.21, 19.0), (12.27, 18.3), (12.33, 18.1),
           (12.39, 10.2), (12.49, 9.6), (12.55, 7.1), (12.75, 6.9), (12.88, 6.6), (13.01, 6.9), (13.07, 8.0),
           (13.13, 10.9), (13.22, 11.1), (13.31, 10.7), (13.35, 8.0), (13.44, 6.4), (13.50, 6.2),
           (13.54, 13.4), (13.61, 16.7), (13.69, 16.3), (13.78, 16.7), (13.85, 16.3), (13.91, 14.7),
           (13.95, 10.7), (14.00, 8.2), (14.12, 8.0), (14.25, 8.1), (14.38, 8.0), (14.64, 8.0), (14.72, 7.5),
           (14.85, 7.6), (14.98, 7.4), (15.03, 11.1), (15.07, 16.0), (15.20, 15.4), (15.31, 15.4),
           (15.34, 11.8), (15.46, 10.7), (15.54, 8.2), (15.76, 7.8), (15.84, 7.8), (15.90, 9.8), (15.97, 10.0),
           (16.14, 10.0), (16.23, 8.7), (16.32, 7.1), (16.44, 7.3), (16.53, 6.6), (16.70, 6.6), (16.75, 11.3),
           (16.83, 11.6), (16.94, 12.0), (17.02, 13.4), (17.09, 11.1), (17.18, 7.5), (17.30, 7.3),
           (17.48, 7.4), (17.61, 6.7), (17.82, 6.6), (17.99, 6.4), (18.08, 10.7), (18.18, 13.4), (18.25, 13.8),
           (18.38, 13.8), (18.44, 12.7), (18.49, 6.9), (18.59, 8.9), (18.68, 9.3), (18.81, 9.2), (18.90, 8.9),
           (18.98, 8.7), (19.07, 6.4), (19.18, 9.4), (19.24, 8.0), (19.37, 8.4), (19.50, 7.8), (19.58, 6.0),
           (19.80, 5.9), (20.06, 6.0), (20.31, 5.9), (20.57, 5.7), (20.91, 5.3), (21.13, 5.1), (21.22, 6.0),
           (21.35, 5.5), (21.47, 5.7), (21.60, 5.8), (21.69, 5.7), (21.82, 4.9), (22.04, 4.6), (22.12, 4.9),
           (22.21, 4.9), (22.33, 4.6), (22.55, 4.9), (22.72, 5.3), (22.90, 5.3), (22.98, 4.2), (23.24, 4.1),
           (23.32, 8.4), (23.41, 10.7), (23.54, 11.6), (23.63, 10.0), (23.76, 8.9), (23.86, 6.9), (24.00, 6.4)]
sig_floor = {"BTC": 1.95, "ETH": 2.93, "SOL": 4.0}

# 7d LP net outflow (%), one step at the weekly window roll
lp_hours = [0.0, 13.15, 24.0]
lp_btc = [0.59, 1.44, 1.44]
lp_eth = [-0.04, 2.50, 2.50]
lp_sol = [0.55, 0.74, 0.74]

gap_span = (22.96, 23.00)   # one missed tick


def xs(pts):
    return [p[0] for p in pts]


def ys(pts, scale=1.0):
    return [p[1] * scale for p in pts]


plt.rcParams["font.family"] = ["DejaVu Sans"]
fig, axes = plt.subplots(6, 1, figsize=(13, 16), dpi=140, sharex=True,
                         gridspec_kw={"height_ratios": [3, 2, 2, 2, 2, 1.5], "hspace": 0.11})
fig.patch.set_facecolor(BG)
fig.subplots_adjust(left=0.0856, right=0.9874, top=0.919, bottom=0.0485)

for ax in axes:
    ax.set_facecolor(PANEL)
    for s in ax.spines.values():
        s.set_color(EDGE)
    ax.tick_params(colors=TXT, labelsize=10, length=4)
    ax.yaxis.label.set_color(TXT)
    ax.axvspan(gap_span[0], gap_span[1], color="#272c35", lw=0, zorder=1)

# 1 - skew
ax = axes[0]
ax.axhline(0, color="#4a5059", lw=1.0, zorder=1)
ax.plot(xs(btc_skew), ys(btc_skew), color=C_BTC, lw=1.6, label="BTC", zorder=3)
ax.plot(xs(eth_skew), ys(eth_skew), color=C_ETH, lw=1.6, label="ETH", zorder=3)
ax.plot(xs(sol_skew), ys(sol_skew), color=C_SOL, lw=1.6, label="SOL", zorder=3)
ax.yaxis.set_major_locator(MultipleLocator(2))
ax.yaxis.set_major_formatter(FuncFormatter(lambda v, _: f"{v:+.1f}M"))
ax.set_ylabel("net trader skew (USD)", fontsize=10)
ax.legend(loc="upper left", ncol=3, frameon=False, fontsize=10, labelcolor=TXT)

# 2 - exit dial U
ax = axes[1]
ax.axhline(u_red_line, color="#f85149", lw=1.3, ls=(0, (3, 2)), zorder=2)
ax.plot(xs(u_dial), ys(u_dial), color="#e5484d", lw=1.6, label="U as computed (record)", zorder=3)
ax.plot(xs(u_dial), ys(u_dial), color="#d29922", lw=1.2, ls=(0, (3, 2)),
        label="U restated (current constants)", zorder=4)
ax.set_ylim(0, 2.4)
ax.yaxis.set_major_locator(MultipleLocator(0.5))
ax.set_ylabel("exit dial U", fontsize=10)
ax.legend(loc="upper left", frameon=False, fontsize=7.5, labelcolor=TXT)
ax.text(0.996, 0.905, "red line U = 1", transform=ax.transAxes, ha="right", va="center",
        color="#f85149", fontsize=8.5)

# 3 - budget
ax = axes[2]
ax.plot([0, 24], [b_net_k * 1000] * 2, color="#3fb950", lw=2.2, label="B_net (min-to-date)", zorder=3)
ax.plot(xs(basis_k), ys(basis_k, 1000), color="#2a6b33", lw=1.0, label="basis", zorder=3)
ax.plot(xs(tar95_k), ys(tar95_k, 1000), color="#a371f7", lw=1.2, ls=(0, (4, 2)),
        label="TaR95 (reporting)", zorder=3)
ax.yaxis.set_major_locator(MultipleLocator(200000))
ax.yaxis.set_major_formatter(FuncFormatter(lambda v, _: f"{v / 1000:.0f}k"))
ax.set_ylabel("budget (USD)", fontsize=10)
ax.legend(loc="lower left", frameon=False, fontsize=8.2, labelcolor=TXT)

# 4 - D
ax = axes[3]
ax.axvspan(incident_open[0], incident_open[1], color="#58a6ff", alpha=0.045, lw=0, zorder=0)
ax.axhline(0, color="#4a5059", lw=1.0, zorder=1)
ax.plot(xs(d_k), ys(d_k, 1000), color="#58a6ff", lw=1.5, zorder=3)
ax.set_ylim(-302000, 15000)
ax.yaxis.set_major_locator(MultipleLocator(50000))
ax.set_ylabel("D (USD)", fontsize=10)
ax.text(0.005, 0.955, "shaded = incident machine open (episode classification)", transform=ax.transAxes,
        ha="left", va="top", color=MUTED, fontsize=8.1)

# 5 - sigma gate
ax = axes[4]
for name, col in (("SOL", C_SOL), ("ETH", C_ETH), ("BTC", C_BTC)):
    ax.axhline(sig_floor[name] / 1000, color=col, lw=0.9, ls=(0, (1, 2)), alpha=0.8, zorder=2)
ax.plot(xs(sig_btc), ys(sig_btc, 0.001), color=C_BTC, lw=1.3, zorder=3)
ax.plot(xs(sig_eth), ys(sig_eth, 0.001), color=C_ETH, lw=1.3, zorder=3)
ax.plot(xs(sig_sol), ys(sig_sol, 0.001), color=C_SOL, lw=1.3, zorder=3)
ax.set_ylim(0.0015, 0.0399)
ax.yaxis.set_major_locator(MultipleLocator(0.01))
ax.set_ylabel("sigma gate (/sqrt-h)", fontsize=10)
ax.text(0.005, 0.95, "dotted = running floors", transform=ax.transAxes,
        ha="left", va="top", color=MUTED, fontsize=8.1)

# 6 - LP outflow
ax = axes[5]
ax.axhline(0, color="#4a5059", lw=1.0, zorder=1)
ax.plot(lp_hours, lp_btc, color=C_BTC, lw=1.8, drawstyle="steps-post", zorder=3)
ax.plot(lp_hours, lp_sol, color=C_SOL, lw=1.8, drawstyle="steps-post", zorder=3)
ax.plot(lp_hours, lp_eth, color=C_ETH, lw=1.8, drawstyle="steps-post", zorder=4)
ax.yaxis.set_major_locator(MultipleLocator(1))
ax.set_ylabel("7d LP net outflow (%)", fontsize=10)
ax.text(0.005, 0.91, "review thresholds: 20 per market / 15 aggregate (PROVISIONAL)",
        transform=ax.transAxes, ha="left", va="top", color=MUTED, fontsize=8.1)

ax.xaxis.set_major_locator(MultipleLocator(3))
ax.xaxis.set_major_formatter(FuncFormatter(lambda h, _: f"{int(round(h)) % 24:02d}:00"))
ax.set_xlabel("UTC, 2026-08-20", fontsize=10, color=TXT)
ax.set_xlim(-1.2, 25.2)

fig.suptitle("GMX E1 shadow safety monitor - day snapshot 2026-08-20\n"
             "shadow / dry-run: observes and records only, nothing pages, nothing is written on-chain",
             color="#d0d5dc", fontsize=13, y=0.979, linespacing=1.4)
fig.text(0.0095, 0.006, "720 ticks (719 ok) | schemas a6b-flows-1 | gaps shaded | generated 2026-08-26 08:39Z",
         color=MUTED, fontsize=7.2, ha="left", va="bottom")

fig.savefig("out.png", dpi=140, facecolor=BG)
